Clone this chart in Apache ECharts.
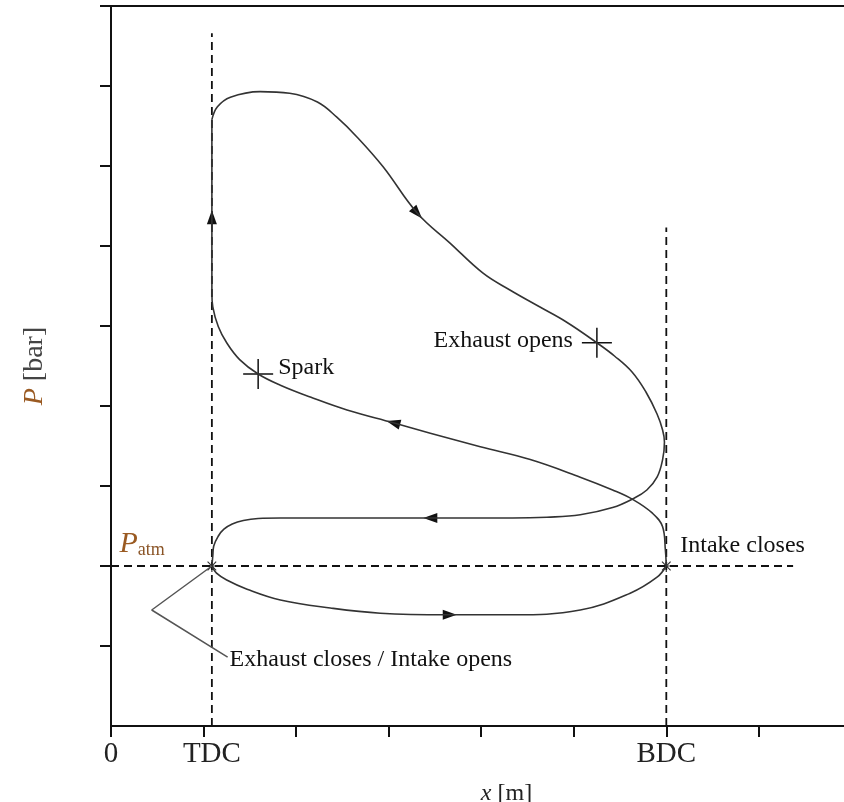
<!DOCTYPE html>
<html>
<head>
<meta charset="utf-8">
<script src="https://cdn.jsdelivr.net/npm/echarts@6/dist/echarts.min.js"></script>
<style>
  html, body { margin: 0; padding: 0; background: #fff; }
  #chart { width: 844px; height: 802px; }
</style>
</head>
<body>
<div id="chart"></div>
<script>
// reference positions on the stroke axis
const tdcX = 1.09;
const bdcX = 6;
const pAtm = 2;

// cycle traces, [x, P]
const intakeStroke = [
  [1.09, 2.0], [1.14, 1.91], [1.25, 1.825], [1.47, 1.71], [1.83, 1.575], [2.37, 1.475],
  [2.91, 1.41], [3.63, 1.39], [4.34, 1.39], [5.07, 1.45], [5.61, 1.66], [5.90, 1.86], [6.0, 2.0]
];
const compressionStroke = [
  [6.0, 2.0], [5.99, 2.2], [5.96, 2.49], [5.85, 2.66], [5.64, 2.83], [5.42, 2.95],
  [5.07, 3.11], [4.53, 3.33], [3.99, 3.49], [3.45, 3.66], [3.05, 3.79], [2.55, 3.95],
  [2.18, 4.10], [1.83, 4.26], [1.59, 4.40], [1.39, 4.58], [1.25, 4.79], [1.16, 4.99],
  [1.10, 5.24], [1.09, 5.41], [1.09, 5.58], [1.09, 7.58]
];
const expansionExhaust = [
  [1.09, 7.58], [1.15, 7.74], [1.29, 7.86], [1.61, 7.93], [1.93, 7.91], [2.23, 7.80],
  [2.44, 7.61], [2.66, 7.36], [2.94, 6.99], [3.31, 6.41], [3.66, 6.04], [4.02, 5.66],
  [4.31, 5.45], [4.63, 5.24], [4.92, 5.05], [5.25, 4.79], [5.44, 4.625], [5.63, 4.425],
  [5.78, 4.175], [5.90, 3.90], [5.96, 3.70], [5.98, 3.55], [5.96, 3.33], [5.90, 3.11],
  [5.79, 2.95], [5.64, 2.84], [5.42, 2.73], [5.07, 2.64], [4.71, 2.61], [4.34, 2.60],
  [3.45, 2.60], [2.18, 2.60], [1.83, 2.60], [1.59, 2.594], [1.43, 2.569], [1.31, 2.525],
  [1.22, 2.46], [1.16, 2.375], [1.11, 2.25], [1.10, 2.125], [1.09, 2.0]
];

// direction arrows along the loop
const arrowPoints = [[3.66, 1.39], [3.45, 2.60], [3.05, 3.79], [1.09, 6.36], [3.31, 6.41]];
const arrowAngles = [-90, 90, 75, 0, -138];

// events
const eventNames = ['Spark', 'Exhaust opens'];
const eventPoints = [[1.59, 4.40], [5.25, 4.79]];
const valvePoints = [[tdcX, pAtm], [bdcX, pAtm]];
const leaderLine = [[tdcX, pAtm], [0.44, 1.45], [1.26, 0.86]];

// guide lines
const tdcLine = [[tdcX, 0], [tdcX, 8.66]];
const bdcLine = [[bdcX, 0], [bdcX, 6.23]];
const atmLine = [[0, pAtm], [7.37, pAtm]];

// axes
const xTickValues = [0, 1, 2, 3, 4, 5, 6, 7];
const xLabelValues = [0, tdcX, bdcX];
const xLabelNames = ['0', 'TDC', 'BDC'];
const yTickValues = [1, 2, 3, 4, 5, 6, 7, 8, 9];

const serif = 'Liberation Serif';
const plus = 'path://M0,14.25h30v1.5h-30z M14.25,0h1.5v30h-1.5z';
const star = 'path://M0,5.4h12v1.2h-12z M5.4,0h1.2v12h-1.2z M1.3,2.1l0.8,-0.8l8.6,8.6l-0.8,0.8z M10.7,2.1l-0.8,-0.8l-8.6,8.6l0.8,0.8z';

const chart = echarts.init(document.getElementById('chart'));

const dashed = { color: '#111', width: 1.8, type: [8, 5] };
const curve = { color: '#333', width: 1.6 };
const noteText = { fontFamily: serif, fontSize: 24, color: '#111' };

const option = {
  animation: false,
  backgroundColor: '#fff',
  grid: { left: 111, top: 6, right: 0, bottom: 76, containLabel: false, outerBoundsMode: 'none' },
  xAxis: [
    {
      type: 'value',
      min: 0,
      max: 7.92,
      interval: 1,
      splitLine: { show: false },
      axisLine: { lineStyle: { color: '#111', width: 2 } },
      axisTick: { customValues: xTickValues, length: 11, lineStyle: { color: '#111', width: 2 } },
      axisLabel: {
        customValues: xLabelValues,
        formatter: v => xLabelNames[xLabelValues.indexOf(v)],
        fontFamily: serif,
        fontSize: 29,
        color: '#222',
        margin: 14
      },
      name: '{i|x} [m]',
      nameLocation: 'middle',
      nameGap: 56,
      nameTextStyle: {
        fontFamily: serif,
        fontSize: 24,
        color: '#222',
        padding: [0, 0, 0, 58],
        rich: { i: { fontFamily: serif, fontStyle: 'italic', fontSize: 24, color: '#222' } }
      }
    },
    {
      type: 'value',
      position: 'top',
      min: 0,
      max: 7.92,
      interval: 1,
      splitLine: { show: false },
      axisLine: { lineStyle: { color: '#111', width: 2 } },
      axisTick: { show: false },
      axisLabel: { show: false }
    }
  ],
  yAxis: {
    type: 'value',
    min: 0,
    max: 9,
    interval: 1,
    splitLine: { show: false },
    axisLine: { lineStyle: { color: '#111', width: 2 } },
    axisTick: { customValues: yTickValues, length: 11, lineStyle: { color: '#111', width: 2 } },
    axisLabel: { show: false },
    name: '{p|P} [bar]',
    nameLocation: 'middle',
    nameGap: 62,
    nameTextStyle: {
      fontFamily: serif,
      fontSize: 28,
      color: '#444',
      rich: { p: { fontFamily: serif, fontStyle: 'italic', fontSize: 28, color: '#9a5a22' } }
    }
  },
  series: [
    { type: 'line', data: tdcLine, symbol: 'none', lineStyle: dashed, silent: true },
    { type: 'line', data: bdcLine, symbol: 'none', lineStyle: dashed, silent: true },
    { type: 'line', data: atmLine, symbol: 'none', lineStyle: dashed, silent: true },
    { name: 'Intake', type: 'line', data: intakeStroke, symbol: 'none', smooth: 0.4, lineStyle: curve },
    { name: 'Compression', type: 'line', data: compressionStroke, symbol: 'none', smooth: 0.4, lineStyle: curve },
    { name: 'Expansion / Exhaust', type: 'line', data: expansionExhaust, symbol: 'none', smooth: 0.4, lineStyle: curve },
    {
      type: 'line',
      data: leaderLine,
      symbol: 'none',
      lineStyle: { color: '#555', width: 1.5 },
      endLabel: {
        show: true,
        formatter: 'Exhaust closes / Intake opens',
        ...noteText,
        distance: 2,
        offset: [0, 3]
      }
    },
    {
      type: 'scatter',
      data: arrowPoints.map((p, i) => ({ value: p, symbolRotate: arrowAngles[i] })),
      symbol: 'triangle',
      symbolSize: [10, 14],
      itemStyle: { color: '#111', opacity: 1 }
    },
    {
      type: 'scatter',
      data: eventPoints.map((p, i) => ({
        value: p,
        label: i === 0
          ? { position: 'right', distance: 5, offset: [0, -6] }
          : { position: 'left', distance: 9, offset: [0, -2] }
      })),
      symbol: plus,
      symbolSize: 30,
      itemStyle: { color: '#111', opacity: 1 },
      label: {
        show: true,
        formatter: p => eventNames[p.dataIndex],
        ...noteText
      }
    },
    {
      type: 'scatter',
      data: valvePoints.map((p, i) => ({
        value: p,
        label: i === 1
          ? { show: true, formatter: 'Intake closes', position: 'right', distance: 6, offset: [2, -20], ...noteText }
          : { show: false }
      })),
      symbol: star,
      symbolSize: 12,
      itemStyle: { color: '#333', opacity: 1 }
    },
    {
      type: 'scatter',
      data: [[0, pAtm]],
      symbolSize: 1,
      itemStyle: { color: 'rgba(0,0,0,0)', opacity: 1 },
      label: {
        show: true,
        position: 'right',
        distance: 8,
        offset: [0, -22],
        formatter: '{p|P}{s|atm}',
        rich: {
          p: { fontFamily: serif, fontStyle: 'italic', fontSize: 30, color: '#9a5a22' },
          s: { fontFamily: serif, fontSize: 18, color: '#8a5426', verticalAlign: 'bottom', padding: [12, 0, 0, 0] }
        }
      }
    }
  ]
};

chart.setOption(option);
window.addEventListener('resize', () => chart.resize());
</script>
</body>
</html>
